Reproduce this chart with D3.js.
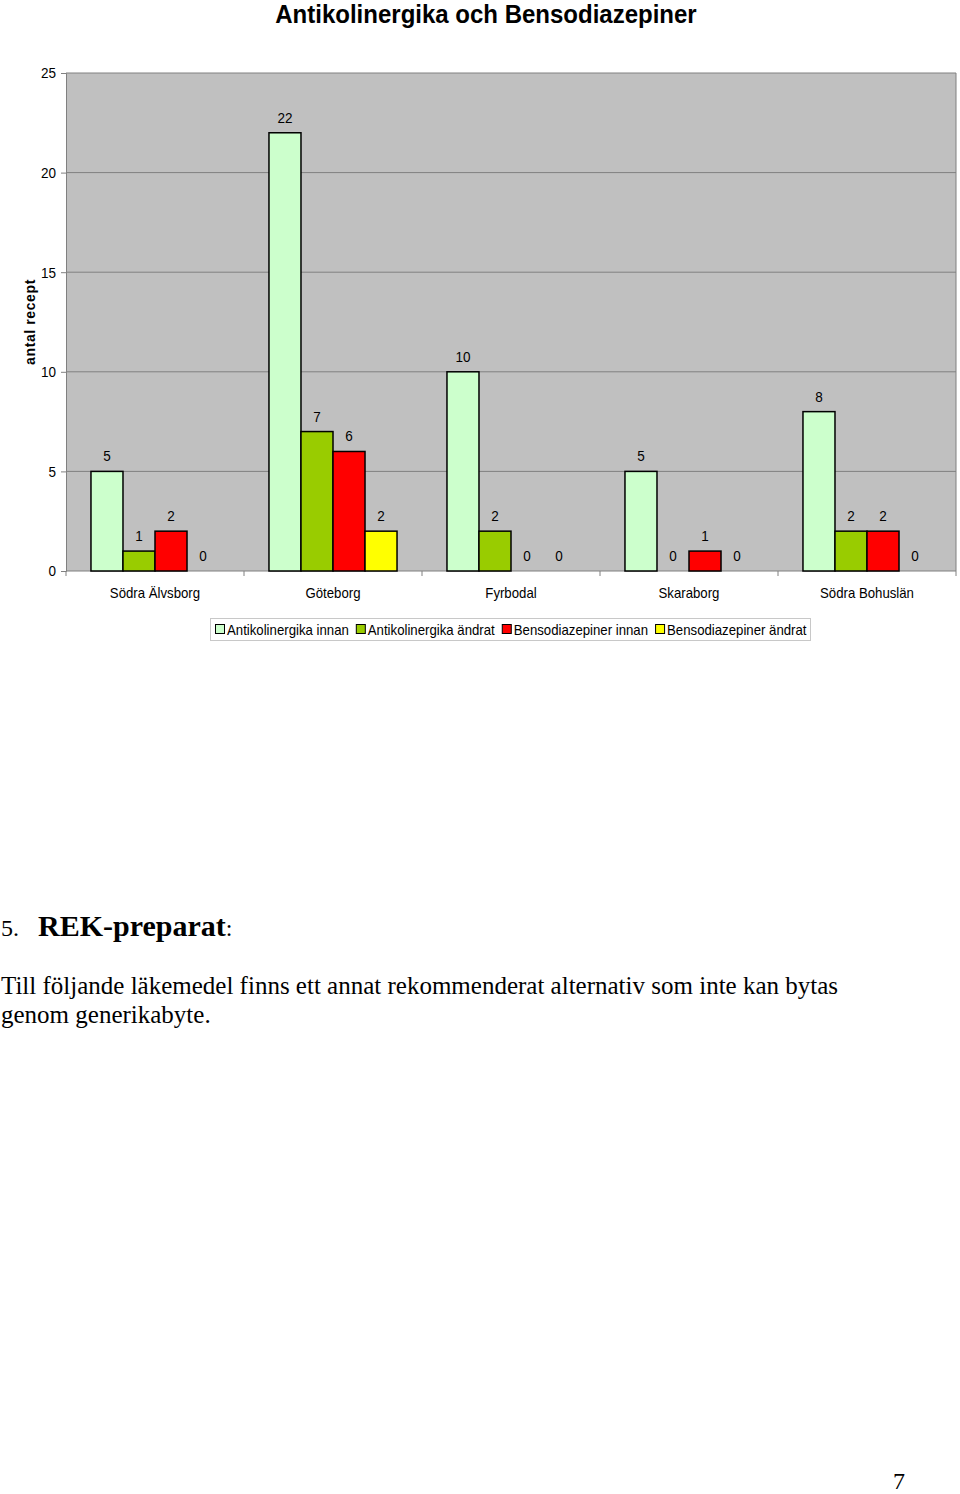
<!DOCTYPE html>
<html>
<head>
<meta charset="utf-8">
<script src="https://cdn.jsdelivr.net/npm/d3@7"></script>
<style>
  html, body { margin: 0; padding: 0; background: #fff; }
  svg { display: block; }
</style>
</head>
<body>
<div id="chart"></div>
<script>
// data
var regions = ["Södra Älvsborg", "Göteborg", "Fyrbodal", "Skaraborg", "Södra Bohuslän"];
var seriesNames = ["Antikolinergika innan", "Antikolinergika ändrat", "Bensodiazepiner innan", "Bensodiazepiner ändrat"];
var antikolInnan = [5, 22, 10, 5, 8];
var antikolAndrat = [1, 7, 2, 0, 2];
var bensoInnan = [2, 6, 0, 1, 2];
var bensoAndrat = [0, 2, 0, 0, 0];
var yTicks = [0, 5, 10, 15, 20, 25];

var seriesColors = ["#ccffcc", "#99cc00", "#ff0000", "#ffff00"];
var allSeries = [antikolInnan, antikolAndrat, bensoInnan, bensoAndrat];

var W = 960, H = 1494,
    margin = {left: 66, right: 4, top: 73},
    plotBottom = 571,
    chartFont = "'Liberation Sans', Arial, sans-serif";

// the chart text in the original is a squeezed Arial, narrow it a bit
function squeeze(sel, k) {
    sel.each(function () {
        var len = this.getComputedTextLength();
        d3.select(this)
            .attr("textLength", len * k)
            .attr("lengthAdjust", "spacingAndGlyphs");
    });
}

var svg = d3.select("#chart").append("svg")
    .attr("width", W)
    .attr("height", H);

var x0 = d3.scaleBand()
    .domain(regions)
    .range([margin.left, W - margin.right])
    .paddingInner(0)
    .paddingOuter(0);

var x1 = d3.scaleBand()
    .domain(d3.range(seriesNames.length))
    .range([0, x0.bandwidth()])
    .paddingOuter(0.78)
    .paddingInner(0);

var y = d3.scaleLinear()
    .domain([0, 25])
    .range([plotBottom, margin.top]);

// plot background
svg.append("rect")
    .attr("x", margin.left)
    .attr("y", margin.top)
    .attr("width", W - margin.right - margin.left)
    .attr("height", plotBottom - margin.top)
    .attr("fill", "#c0c0c0");

// gridlines
svg.append("g")
    .selectAll("line")
    .data(yTicks.slice(1))
    .enter().append("line")
    .attr("x1", margin.left)
    .attr("x2", W - margin.right)
    .attr("y1", function (d) { return y(d); })
    .attr("y2", function (d) { return y(d); })
    .attr("stroke", "#808080")
    .attr("stroke-width", 1);

// right border
svg.append("line")
    .attr("x1", W - margin.right).attr("x2", W - margin.right)
    .attr("y1", margin.top).attr("y2", plotBottom)
    .attr("stroke", "#808080");

// y axis
var yAxis = svg.append("g")
    .attr("transform", "translate(" + margin.left + ",0)")
    .call(d3.axisLeft(y).tickValues(yTicks).tickSize(5).tickPadding(5));
yAxis.selectAll("path, line").attr("stroke", "#808080");
yAxis.selectAll("text")
    .attr("font-family", chartFont)
    .attr("font-size", 15)
    .attr("fill", "#000")
    .call(squeeze, 0.9);

// x axis
var xAxis = svg.append("g")
    .attr("transform", "translate(0," + plotBottom + ")");
xAxis.append("line")
    .attr("x1", margin.left).attr("x2", W - margin.right)
    .attr("y1", 0).attr("y2", 0)
    .attr("stroke", "#808080");
xAxis.selectAll("line.tick")
    .data(regions.concat(["end"]))
    .enter().append("line")
    .attr("class", "tick")
    .attr("x1", function (d, i) { return i < regions.length ? x0(d) : W - margin.right; })
    .attr("x2", function (d, i) { return i < regions.length ? x0(d) : W - margin.right; })
    .attr("y1", 0).attr("y2", 5)
    .attr("stroke", "#808080");
xAxis.selectAll("text")
    .data(regions)
    .enter().append("text")
    .attr("x", function (d) { return x0(d) + x0.bandwidth() / 2; })
    .attr("y", 27)
    .attr("text-anchor", "middle")
    .attr("font-family", chartFont)
    .attr("font-size", 15)
    .text(function (d) { return d; })
    .call(squeeze, 0.88);

// y label
svg.append("text")
    .attr("transform", "translate(35,322) rotate(-90)")
    .attr("text-anchor", "middle")
    .attr("font-family", chartFont)
    .attr("font-size", 14)
    .attr("font-weight", "bold")
    .attr("letter-spacing", 0.6)
    .text("antal recept");

// title
svg.append("text")
    .attr("x", 486)
    .attr("y", 23)
    .attr("text-anchor", "middle")
    .attr("font-family", chartFont)
    .attr("font-size", 25)
    .attr("font-weight", "bold")
    .text("Antikolinergika och Bensodiazepiner")
    .call(squeeze, 0.96);

// bars
var groups = svg.append("g")
    .selectAll("g")
    .data(regions)
    .enter().append("g")
    .attr("transform", function (d) { return "translate(" + x0(d) + ",0)"; });

var cells = groups.selectAll("g")
    .data(function (d, i) {
        return allSeries.map(function (s, k) { return {k: k, v: s[i]}; });
    })
    .enter().append("g");

cells.filter(function (d) { return d.v > 0; })
    .append("rect")
    .attr("x", function (d) { return x1(d.k); })
    .attr("y", function (d) { return y(d.v); })
    .attr("width", x1.bandwidth())
    .attr("height", function (d) { return y(0) - y(d.v); })
    .attr("fill", function (d) { return seriesColors[d.k]; })
    .attr("stroke", "#000")
    .attr("stroke-width", 1.5);

cells.append("text")
    .attr("x", function (d) { return x1(d.k) + x1.bandwidth() / 2; })
    .attr("y", function (d) { return y(d.v) - 10; })
    .attr("text-anchor", "middle")
    .attr("font-family", chartFont)
    .attr("font-size", 15)
    .text(function (d) { return d.v; })
    .call(squeeze, 0.9);

// legend
var legend = svg.append("g");
legend.append("rect")
    .attr("x", 210.5).attr("y", 618.5)
    .attr("width", 600).attr("height", 22)
    .attr("fill", "#fff")
    .attr("stroke", "#c8c8c8");
var lx = 215;
seriesNames.forEach(function (name, k) {
    legend.append("rect")
        .attr("x", lx + 0.5).attr("y", 624.5)
        .attr("width", 9).attr("height", 9)
        .attr("fill", seriesColors[k])
        .attr("stroke", "#000");
    var t = legend.append("text")
        .attr("x", lx + 12)
        .attr("y", 635)
        .attr("font-family", chartFont)
        .attr("font-size", 15)
        .text(name);
    var w = t.node().getComputedTextLength() * 0.88;
    t.attr("textLength", w).attr("lengthAdjust", "spacingAndGlyphs");
    lx += 12 + w + 7;
});

// text below chart
var serif = "'Liberation Serif', 'Times New Roman', serif";
var heading = svg.append("text")
    .attr("x", 1)
    .attr("y", 936)
    .attr("font-family", serif);
heading.append("tspan").attr("font-size", 24).text("5.");
heading.append("tspan").attr("x", 38).attr("font-size", 30).attr("font-weight", "bold").text("REK-preparat");
heading.append("tspan").attr("font-size", 24).text(":");

svg.append("text")
    .attr("x", 1).attr("y", 994)
    .attr("font-family", serif)
    .attr("font-size", 25)
    .text("Till följande läkemedel finns ett annat rekommenderat alternativ som inte kan bytas");
svg.append("text")
    .attr("x", 1).attr("y", 1023)
    .attr("font-family", serif)
    .attr("font-size", 25)
    .text("genom generikabyte.");

svg.append("text")
    .attr("x", 893).attr("y", 1489)
    .attr("font-family", serif)
    .attr("font-size", 24)
    .text("7");
</script>
</body>
</html>
